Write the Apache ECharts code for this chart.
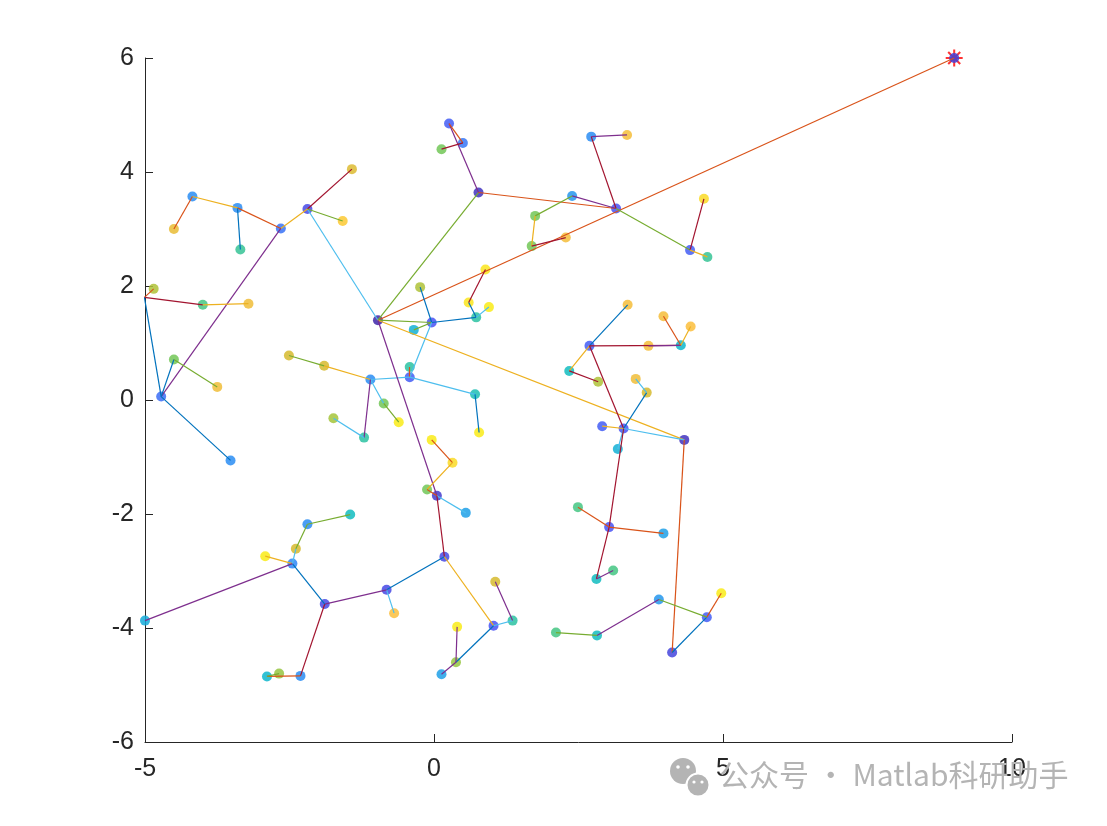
<!DOCTYPE html>
<html><head><meta charset="utf-8">
<script src="https://cdn.jsdelivr.net/npm/echarts@6/dist/echarts.min.js"></script>
<style>html,body{margin:0;padding:0;background:#fff}#c{width:1107px;height:826px}</style>
</head><body><div id="c"></div>
<script>
// node coordinates and node values (colour by parula value)
var nodeX = [9.00,-0.97,-2.19,-1.42,-1.58,-2.65,-3.40,-3.35,-4.18,-4.50,-4.72,-5.01,-4.85,-4.00,-3.21,-4.50,-3.75,-3.52,0.77,0.26,0.50,0.13,3.15,2.72,3.34,2.39,1.75,1.69,2.28,4.43,4.67,4.73,-0.04,-0.24,-0.35,0.73,0.60,0.89,0.95,-0.42,-0.42,-1.10,-1.90,-2.51,-0.87,-0.61,-1.21,-1.74,0.71,0.78,-0.04,0.32,-0.12,0.05,0.55,0.18,-0.82,-0.69,-1.89,-2.31,-2.68,-2.89,-2.45,-2.92,-2.39,-2.19,-1.45,-5.00,1.03,1.36,1.06,0.40,0.38,0.13,2.69,3.35,4.27,3.97,4.44,3.71,2.34,2.84,3.28,3.49,3.68,2.91,3.18,4.33,3.03,2.49,3.97,2.81,3.10,4.12,4.72,4.97,3.89,2.82,2.11];
var nodeY = [6.00,1.40,3.35,4.05,3.14,3.01,3.37,2.64,3.57,3.00,0.06,1.80,1.95,1.67,1.69,0.71,0.23,-1.06,3.64,4.85,4.51,4.40,3.36,4.62,4.65,3.58,3.23,2.70,2.85,2.63,3.53,2.51,1.36,1.98,1.23,1.45,1.71,2.29,1.63,0.58,0.40,0.36,0.60,0.78,-0.06,-0.39,-0.66,-0.32,0.10,-0.57,-0.70,-1.10,-1.57,-1.68,-1.98,-2.75,-3.33,-3.74,-3.58,-4.84,-4.80,-4.85,-2.87,-2.74,-2.61,-2.18,-2.01,-3.87,-3.96,-3.87,-3.19,-3.98,-4.60,-4.81,0.95,1.67,0.96,1.47,1.29,0.95,0.51,0.32,-0.50,0.37,0.13,-0.46,-0.86,-0.70,-2.23,-1.88,-2.34,-3.14,-2.99,-4.43,-3.81,-3.39,-3.50,-4.13,-4.08];
var nodeVal = [0.06,0.00,0.08,0.82,0.92,0.16,0.22,0.52,0.22,0.85,0.15,0.33,0.72,0.55,0.87,0.63,0.87,0.22,0.03,0.12,0.17,0.63,0.10,0.22,0.88,0.25,0.63,0.63,0.88,0.12,0.95,0.52,0.10,0.72,0.35,0.50,0.97,0.97,0.98,0.50,0.12,0.22,0.80,0.80,0.63,0.98,0.50,0.70,0.45,0.98,0.98,0.95,0.63,0.05,0.28,0.08,0.08,0.90,0.08,0.22,0.68,0.38,0.20,0.98,0.80,0.22,0.42,0.33,0.10,0.50,0.80,0.98,0.68,0.28,0.12,0.88,0.38,0.88,0.90,0.88,0.42,0.72,0.10,0.87,0.80,0.12,0.35,0.03,0.10,0.55,0.28,0.42,0.55,0.07,0.12,0.98,0.25,0.42,0.55];
// edges: from node, to node (1-based), colour index in MATLAB default line palette
var edgeFrom = [1,2,3,3,6,7,7,9,9,6,12,12,14,12,11,16,11,2,19,20,21,19,23,24,23,26,27,28,23,30,30,2,35,34,33,36,37,36,33,41,42,43,44,42,45,42,48,41,49,2,2,51,52,53,54,54,56,57,57,59,60,61,59,63,63,65,66,63,56,69,71,69,73,73,75,75,80,78,79,75,81,75,85,84,83,83,83,83,90,89,89,92,88,94,95,97,97,98];
var edgeTo   = [2,3,4,5,3,6,8,7,10,11,13,14,15,11,16,17,18,19,20,21,22,23,24,25,26,27,28,29,30,31,32,33,33,33,36,37,38,39,41,40,41,42,43,45,46,47,47,49,50,88,54,52,53,54,55,56,57,58,59,60,62,62,63,64,65,66,67,68,69,70,70,73,72,74,76,77,77,77,77,81,82,83,83,85,86,87,88,89,89,91,92,93,94,95,96,95,98,99];
var edgeColor= [1,5,6,4,2,1,0,2,1,3,1,6,2,0,0,4,0,4,3,1,6,1,6,3,3,4,2,6,4,6,2,4,4,0,0,0,6,5,5,1,5,2,4,5,4,3,5,5,0,2,3,1,2,1,5,6,0,5,3,6,1,4,0,2,5,4,4,3,2,5,3,0,3,3,0,6,3,1,2,2,6,6,0,5,2,5,5,6,1,1,6,3,1,0,1,4,3,4];
var goal = [9, 6];
var xTicks = [-5, 0, 5, 10];
var yTicks = [-6, -4, -2, 0, 2, 4, 6];

var palette = ['#0072BD','#D95319','#EDB120','#7E2F8E','#77AC30','#4DBEEE','#A2142F'];
var parula = ['#3e26a8','#4852f4','#2e87f7','#1aa6e3','#0bbac6','#2cc2a2','#5cc863','#a5c43a','#d6ba2e','#fbbe3c','#f9f60f'];

var nodes = nodeX.map(function(x,i){return [x, nodeY[i], nodeVal[i]];});
var edges = edgeFrom.map(function(a,i){
  var b = edgeTo[i];
  return {coords:[[nodeX[a-1],nodeY[a-1]],[nodeX[b-1],nodeY[b-1]]], lineStyle:{color:palette[edgeColor[i]]}};
});

var axisCol = '#262626';
var chart = echarts.init(document.getElementById('c'));
chart.setOption({
  animation:false,
  grid:{left:145,right:95,top:58,bottom:84},
  xAxis:{type:'value',min:xTicks[0],max:xTicks[xTicks.length-1],interval:5,
    axisLine:{onZero:false,lineStyle:{color:axisCol,width:1}},
    axisTick:{inside:true,length:8,lineStyle:{color:axisCol}},
    axisLabel:{color:axisCol,fontSize:25,fontFamily:'Liberation Sans, Arial',margin:15},
    splitLine:{show:false}},
  yAxis:{type:'value',min:yTicks[0],max:yTicks[yTicks.length-1],interval:2,
    axisLine:{show:true,onZero:false,lineStyle:{color:axisCol,width:1}},
    axisTick:{show:true,inside:true,length:8,lineStyle:{color:axisCol}},
    axisLabel:{color:axisCol,fontSize:25,fontFamily:'Liberation Sans, Arial',margin:11},
    splitLine:{show:false}},
  visualMap:{show:false,type:'continuous',min:0,max:1,dimension:2,seriesIndex:1,inRange:{color:parula}},
  series:[
    {type:'scatter',data:[goal],symbol:'path://M-1.2,-10h2.4v20h-2.4z M-10,-1.2h20v2.4h-20z M-7.9,-6.2L-6.2,-7.9L7.9,6.2L6.2,7.9z M6.2,-7.9L7.9,-6.2L-6.2,7.9L-7.9,6.2z',
      symbolSize:17,itemStyle:{color:'#ff0000'},z:1,silent:true},
    {type:'scatter',data:nodes,symbolSize:10,itemStyle:{opacity:0.85},z:2,silent:true},
    {type:'lines',coordinateSystem:'cartesian2d',data:edges,lineStyle:{width:1.2,opacity:1},z:3,silent:true}
  ],
  graphic:[
    {type:'circle',shape:{cx:683,cy:771,r:13},style:{fill:'#b4b4b4'},z:10},
    {type:'circle',shape:{cx:698,cy:785,r:11.5},style:{fill:'#b4b4b4',stroke:'#fff',lineWidth:2},z:11},
    {type:'circle',shape:{cx:678,cy:767,r:1.8},style:{fill:'#fff'},z:12},
    {type:'circle',shape:{cx:688,cy:767,r:1.8},style:{fill:'#fff'},z:12},
    {type:'circle',shape:{cx:694,cy:782,r:1.6},style:{fill:'#fff'},z:12},
    {type:'circle',shape:{cx:702,cy:782,r:1.6},style:{fill:'#fff'},z:12},
    {type:'text',left:719,top:760,style:{text:'公众号 · Matlab科研助手',fill:'#b4b4b4',fontSize:30,fontFamily:'Noto Sans CJK SC'},z:10}
  ]
});
</script></body></html>
